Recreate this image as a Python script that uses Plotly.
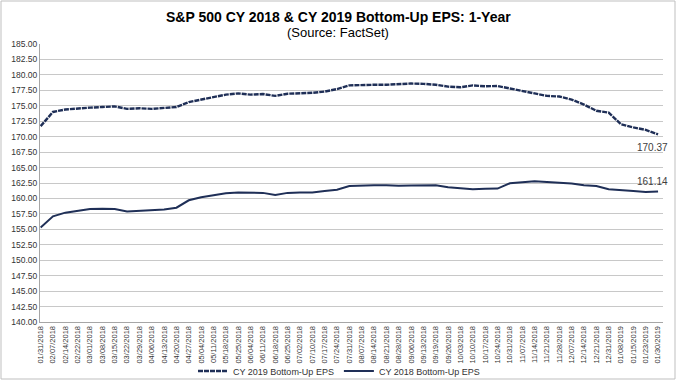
import plotly.graph_objects as go

dates = ["01/31/2018", "02/07/2018", "02/14/2018", "02/22/2018", "03/01/2018", "03/08/2018",
         "03/15/2018", "03/22/2018", "03/29/2018", "04/06/2018", "04/13/2018", "04/20/2018",
         "04/27/2018", "05/04/2018", "05/11/2018", "05/18/2018", "05/25/2018", "06/04/2018",
         "06/11/2018", "06/18/2018", "06/25/2018", "07/02/2018", "07/10/2018", "07/17/2018",
         "07/24/2018", "07/31/2018", "08/07/2018", "08/14/2018", "08/21/2018", "08/28/2018",
         "09/06/2018", "09/13/2018", "09/19/2018", "09/26/2018", "10/03/2018", "10/10/2018",
         "10/17/2018", "10/24/2018", "10/31/2018", "11/07/2018", "11/14/2018", "11/21/2018",
         "11/28/2018", "12/07/2018", "12/14/2018", "12/21/2018", "12/31/2018", "01/08/2019",
         "01/15/2019", "01/23/2019", "01/30/2019"]

cy2019 = [171.7, 174.0, 174.4, 174.6, 174.7, 174.8, 174.9, 174.5, 174.6, 174.5,
          174.6, 174.8, 175.6, 176.0, 176.3, 176.8, 177.0, 176.8, 176.9, 176.6,
          176.95, 177.0, 177.1, 177.3, 177.7, 178.3, 178.4, 178.4, 178.4, 178.5,
          178.6, 178.55, 178.4, 178.1, 178.0, 178.3, 178.15, 178.2, 177.8, 177.3,
          176.9, 176.6, 176.5, 176.0, 175.2, 174.2, 173.9, 172.0, 171.5, 171.1,
          170.37]

cy2018 = [155.3, 157.1, 157.7, 158.05, 158.3, 158.35, 158.3, 157.9, 158.0, 158.1,
          158.2, 158.5, 159.7, 160.2, 160.5, 160.85, 160.95, 160.9, 160.9, 160.55,
          160.9, 160.95, 160.95, 161.2, 161.4, 162.0, 162.1, 162.15, 162.15, 162.05,
          162.1, 162.15, 162.15, 161.8, 161.65, 161.5, 161.55, 161.6, 162.45, 162.65,
          162.8, 162.65, 162.55, 162.4, 162.15, 162.0, 161.5, 161.3, 161.2, 161.05,
          161.14]

yticks = [140 + 2.5 * k for k in range(19)]
ytick_text = ["%.2f" % v for v in yticks]

navy = "#1F2F57"
FONT = "Liberation Sans, Arial, sans-serif"

# plot area in pixels
L, R, T, B = 40, 663, 44, 322
W, H = 676, 386
PW, PH = R - L, B - T


def px_x(px):
    return (px - L) / PW


def px_y(py):
    return (B - py) / PH


fig = go.Figure()
fig.add_trace(go.Scatter(x=dates, y=cy2019, mode="lines", name="CY 2019 Bottom-Up EPS",
                         line=dict(color=navy, width=2.4, dash="5px,1px")))
fig.add_trace(go.Scatter(x=dates, y=cy2018, mode="lines", name="CY 2018 Bottom-Up EPS",
                         line=dict(color=navy, width=2)))

annotations = [
    dict(x=px_x(670), xref="paper", y=cy2019[-1], yref="y", text="%.2f" % cy2019[-1],
         showarrow=False, xanchor="right", yanchor="middle", yshift=-13,
         font=dict(size=10, color="#404040", family=FONT)),
    dict(x=px_x(670), xref="paper", y=cy2018[-1], yref="y", text="%.2f" % cy2018[-1],
         showarrow=False, xanchor="right", yanchor="middle", yshift=10,
         font=dict(size=10, color="#404040", family=FONT)),
    dict(text="<b>S&P 500 CY 2018 & CY 2019 Bottom-Up EPS: 1-Year</b>", x=px_x(338), xref="paper",
         y=px_y(17), yref="paper", showarrow=False, xanchor="center", yanchor="middle",
         font=dict(size=14, color="#000000", family=FONT)),
    dict(text="(Source: FactSet)", x=px_x(338), xref="paper",
         y=px_y(32), yref="paper", showarrow=False, xanchor="center", yanchor="middle",
         font=dict(size=13, color="#000000", family=FONT)),
]

fig.update_layout(
    width=W, height=H,
    margin=dict(l=L, r=W - R, t=T, b=H - B, autoexpand=False),
    paper_bgcolor="white", plot_bgcolor="white",
    showlegend=True,
    annotations=annotations,
    legend=dict(orientation="h", x=px_x(339), xanchor="center", y=px_y(371), yanchor="middle",
                font=dict(size=9, color="#333333", family=FONT), traceorder="normal",
                bgcolor="rgba(0,0,0,0)"),
    xaxis=dict(type="category", range=[-0.05, 50.4], tickangle=-90, showgrid=False,
               tickfont=dict(size=7.5, color="#333333", family=FONT), automargin=False,
               showline=True, linecolor="#a6a6a6", linewidth=1, ticks="", fixedrange=True),
    yaxis=dict(range=[140, 185], tickvals=yticks, ticktext=ytick_text, automargin=False,
               showgrid=True, gridcolor="#c8c8c8", gridwidth=1,
               tickfont=dict(size=8.5, color="#333333", family=FONT),
               showline=True, linecolor="#a6a6a6", linewidth=1, zeroline=False, ticks=""),
)

# outer frame
fig.add_shape(type="rect", xref="paper", yref="paper",
              x0=px_x(1), x1=px_x(675), y0=px_y(379), y1=px_y(1),
              line=dict(color="#bfbfbf", width=1), fillcolor="rgba(0,0,0,0)", layer="below")

fig.write_html("out.html", config={"displayModeBar": False},
               post_script="document.body.style.margin='0px';document.body.style.overflow='hidden';")
